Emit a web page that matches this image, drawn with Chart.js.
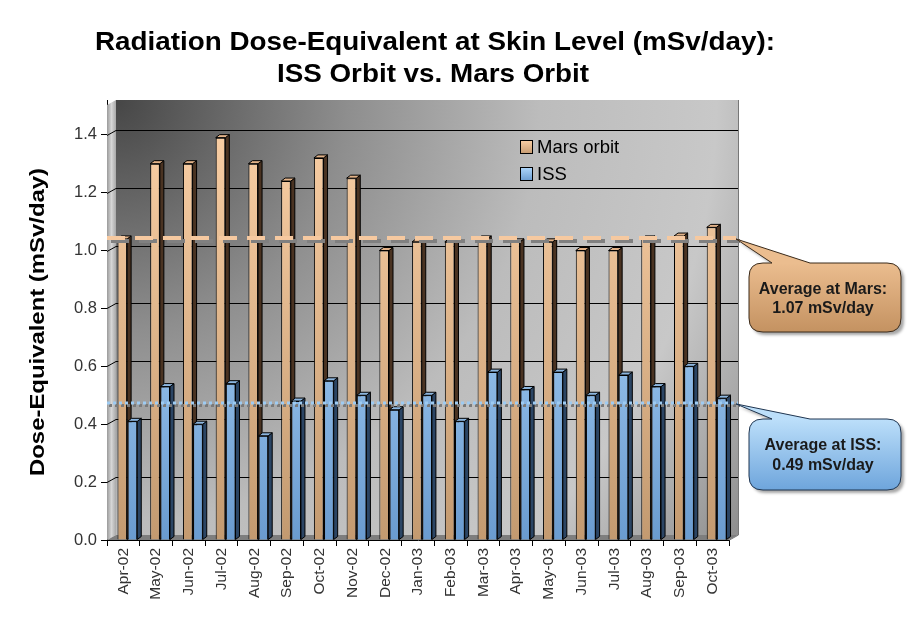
<!DOCTYPE html>
<html><head><meta charset="utf-8">
<script src="https://cdn.jsdelivr.net/npm/chart.js@4.4.0/dist/chart.umd.min.js"></script>
<style>html,body{margin:0;padding:0;background:#fff;}</style>
</head><body>
<canvas id="c" width="907" height="621"></canvas>
<script>
const months = ['Apr-02','May-02','Jun-02','Jul-02','Aug-02','Sep-02','Oct-02','Nov-02','Dec-02','Jan-03','Feb-03','Mar-03','Apr-03','May-03','Jun-03','Jul-03','Aug-03','Sep-03','Oct-03'];
const marsOrbit = [1.04,1.30,1.30,1.39,1.30,1.24,1.32,1.25,1.00,1.03,1.03,1.04,1.03,1.03,1.00,1.00,1.04,1.05,1.08];
const issOrbit  = [0.41,0.53,0.40,0.54,0.36,0.48,0.55,0.50,0.45,0.50,0.41,0.58,0.52,0.58,0.50,0.57,0.53,0.60,0.49];
const seriesNames = ['Mars orbit','ISS'];
const averageLevels = [1.04, 0.47];
const averageTexts = [['Average at Mars:','1.07 mSv/day'],['Average at ISS:','0.49 mSv/day']];
const yTicks = [0,0.2,0.4,0.6,0.8,1.0,1.2,1.4];
const titleLines = ['Radiation Dose-Equivalent at Skin Level (mSv/day):','ISS Orbit vs. Mars Orbit'];
const yTitle = 'Dose-Equivalent (mSv/day)';

const DX = 9, DY = 5;      // 3D wall depth
const BD = 4, BR = 3;      // bar depth

function vgrad(ctx, y0, y1, c0, c1){ const g = ctx.createLinearGradient(0,y0,0,y1); g.addColorStop(0,c0); g.addColorStop(1,c1); return g; }

const marsFill = (c) => { const a = c.chart.chartArea; if(!a) return '#e8b888'; return vgrad(c.chart.ctx, a.top, a.bottom, '#fdd2a8', '#c39a70'); };
const issFill = (c) => { const a = c.chart.chartArea; if(!a) return '#9cc8f0'; return vgrad(c.chart.ctx, a.top+100, a.bottom, '#b0d8fc', '#6a9bcf'); };

const wallPlugin = {
  id:'walls',
  beforeDatasetsDraw(chart){
    const ctx = chart.ctx, a = chart.chartArea, ys = chart.scales.y;
    const L=a.left, R=a.right, T=a.top, B=a.bottom;
    ctx.save();
    // back wall
    let g = ctx.createRadialGradient(L+DX, T, 0, L+DX, T, 770);
    g.addColorStop(0,'#464646'); g.addColorStop(0.3,'#8e8e8e'); g.addColorStop(0.55,'#bcbcbc');
    g.addColorStop(0.78,'#c8c8c8'); g.addColorStop(1,'#8a8a8a');
    ctx.fillStyle = g; ctx.fillRect(L+DX, T, R-L, B-DY-T);
    // left wall
    g = ctx.createLinearGradient(L, 0, L+DX, 0);
    g.addColorStop(0,'#9a9a9a'); g.addColorStop(0.5,'#d6d6d6'); g.addColorStop(1,'#a8a8a8');
    ctx.fillStyle = g;
    ctx.beginPath(); ctx.moveTo(L,T+DY); ctx.lineTo(L+DX,T); ctx.lineTo(L+DX,B-DY); ctx.lineTo(L,B); ctx.closePath(); ctx.fill();
    // floor
    ctx.fillStyle = '#7e7e7e';
    ctx.beginPath(); ctx.moveTo(L,B); ctx.lineTo(L+DX,B-DY); ctx.lineTo(R+DX,B-DY); ctx.lineTo(R,B); ctx.closePath(); ctx.fill();
    // right edge
    ctx.strokeStyle='#777'; ctx.lineWidth=1;
    ctx.beginPath(); ctx.moveTo(R+DX+0.5,T); ctx.lineTo(R+DX+0.5,B-DY); ctx.lineTo(R+0.5,B); ctx.stroke();
    // gridlines
    ctx.strokeStyle='#000'; ctx.lineWidth=1;
    yTicks.forEach(v => {
      if (v === 0) return;
      const py = Math.round(ys.getPixelForValue(v)) + 0.5;
      ctx.beginPath(); ctx.moveTo(L,py); ctx.lineTo(L+DX,py-DY); ctx.lineTo(R+DX,py-DY); ctx.stroke();
    });
    ctx.restore();
  }
};

function barFaces(ctx, el, side, top){
  const p = el.getProps(['x','y','base','width'], true);
  const xr = p.x + p.width/2, xl = p.x - p.width/2;
  ctx.save(); ctx.lineWidth = 1; ctx.strokeStyle = '#000';
  ctx.fillStyle = side;
  ctx.beginPath(); ctx.moveTo(xr,p.y); ctx.lineTo(xr+BD,p.y-BR); ctx.lineTo(xr+BD,p.base-BR); ctx.lineTo(xr,p.base); ctx.closePath(); ctx.fill(); ctx.stroke();
  ctx.fillStyle = top;
  ctx.beginPath(); ctx.moveTo(xl,p.y); ctx.lineTo(xl+BD,p.y-BR); ctx.lineTo(xr+BD,p.y-BR); ctx.lineTo(xr,p.y); ctx.closePath(); ctx.fill(); ctx.stroke();
  ctx.restore();
}

const bars3D = {
  id:'bars3d',
  afterDatasetsUpdate(chart){
    chart.data.datasets.forEach((d,i) => chart.getDatasetMeta(i).data.forEach(el => { el.x += 4; }));
  },
  afterDatasetsDraw(chart){
    const ctx = chart.ctx;
    const m0 = chart.getDatasetMeta(0).data, m1 = chart.getDatasetMeta(1).data;
    m0.forEach((el,i) => {
      barFaces(ctx, el, '#4a3322', '#e2b288');
      m1[i].draw(ctx);
      barFaces(ctx, m1[i], '#2b4564', '#8cb6df');
    });
  }
};

function calloutPath(ctx, x, y, w, h, r, tip, b0, b1){
  ctx.beginPath();
  ctx.moveTo(x+r, y);
  ctx.lineTo(b0, y); ctx.lineTo(tip[0], tip[1]); ctx.lineTo(b1, y);
  ctx.lineTo(x+w-r, y); ctx.quadraticCurveTo(x+w, y, x+w, y+r);
  ctx.lineTo(x+w, y+h-r); ctx.quadraticCurveTo(x+w, y+h, x+w-r, y+h);
  ctx.lineTo(x+r, y+h); ctx.quadraticCurveTo(x, y+h, x, y+h-r);
  ctx.lineTo(x, y+r); ctx.quadraticCurveTo(x, y, x+r, y);
  ctx.closePath();
}

const overlay = {
  id:'overlay',
  afterDatasetsDraw(chart){
    const ctx = chart.ctx, a = chart.chartArea, ys = chart.scales.y;
    const x0 = a.left, x1 = a.right + 11;
    ctx.save();
    // Mars average (dashed)
    let py = ys.getPixelForValue(averageLevels[0]);
    ctx.lineWidth = 4; ctx.setLineDash([18,10]);
    ctx.strokeStyle = '#808080'; ctx.beginPath(); ctx.moveTo(x0+4,py+2); ctx.lineTo(x1,py+2); ctx.stroke();
    ctx.strokeStyle = '#f6c9a0'; ctx.beginPath(); ctx.moveTo(x0,py-1); ctx.lineTo(x1-4,py-1); ctx.stroke();
    // ISS average (dotted)
    py = ys.getPixelForValue(averageLevels[1]);
    ctx.lineWidth = 3; ctx.setLineDash([3,3]);
    ctx.strokeStyle = '#7a7a7a'; ctx.beginPath(); ctx.moveTo(x0+2,py+1.5); ctx.lineTo(x1,py+1.5); ctx.stroke();
    ctx.strokeStyle = '#9ecbf2'; ctx.beginPath(); ctx.moveTo(x0,py-1); ctx.lineTo(x1-2,py-1); ctx.stroke();
    ctx.setLineDash([]);

    // callouts
    const specs = [
      {y:263, h:69, tipY: ys.getPixelForValue(averageLevels[0]), c0:'#ebbd8f', c1:'#c49261', st:'#3a2a1a', tx: averageTexts[0]},
      {y:419, h:71, tipY: ys.getPixelForValue(averageLevels[1]), c0:'#bcdffa', c1:'#6ea5dc', st:'#1f3550', tx: averageTexts[1]}
    ];
    specs.forEach(s => {
      const bx = 749, bw = 152;
      ctx.save();
      ctx.shadowColor = 'rgba(0,0,0,0.35)'; ctx.shadowOffsetX = 3; ctx.shadowOffsetY = 3; ctx.shadowBlur = 3;
      calloutPath(ctx, bx, s.y, bw, s.h, 14, [x1-4, s.tipY], 772, 810);
      ctx.fillStyle = vgrad(ctx, s.y, s.y+s.h, s.c0, s.c1); ctx.fill();
      ctx.restore();
      calloutPath(ctx, bx, s.y, bw, s.h, 14, [x1-4, s.tipY], 772, 810);
      ctx.lineWidth = 1; ctx.strokeStyle = s.st; ctx.stroke();
      ctx.fillStyle = '#1a1a1a'; ctx.font = 'bold 16px "Liberation Sans", Arial, sans-serif';
      ctx.textAlign = 'center'; ctx.textBaseline = 'middle';
      ctx.fillText(s.tx[0], bx+bw/2-2, s.y+s.h*0.38);
      ctx.fillText(s.tx[1], bx+bw/2-2, s.y+s.h*0.66);
    });

    // legend
    const leg = [{y:147, c0:'#fbd0a6', c1:'#c59a70'}, {y:174, c0:'#b0d8fc', c1:'#6a9bcf'}];
    leg.forEach((l,i) => {
      ctx.fillStyle = vgrad(ctx, l.y-7, l.y+7, l.c0, l.c1);
      ctx.fillRect(520, l.y-7, 12, 13);
      ctx.lineWidth = 1; ctx.strokeStyle = '#000'; ctx.strokeRect(520.5, l.y-6.5, 12, 13);
      ctx.fillStyle = '#000'; ctx.font = '18.5px "Liberation Sans", Arial, sans-serif';
      ctx.textAlign = 'left'; ctx.textBaseline = 'middle';
      ctx.fillText(seriesNames[i], 537, l.y+1);
    });
    ctx.restore();
  },
  afterDraw(chart){
    const ctx = chart.ctx;
    ctx.save();
    ctx.fillStyle = '#000'; ctx.textAlign = 'center'; ctx.textBaseline = 'middle';
    ctx.font = 'bold 25px "Liberation Sans", Arial, sans-serif';
    const s = 680 / ctx.measureText(titleLines[0]).width;
    [[435,43],[433,75]].forEach((p,i) => {
      ctx.save(); ctx.translate(p[0], p[1]); ctx.scale(s,1); ctx.fillText(titleLines[i],0,0); ctx.restore();
    });
    ctx.font = 'bold 20px "Liberation Sans", Arial, sans-serif';
    const s2 = 308 / ctx.measureText(yTitle).width;
    ctx.translate(38, 322); ctx.rotate(-Math.PI/2); ctx.scale(s2,1);
    ctx.fillText(yTitle, 0, 0);
    ctx.restore();
  }
};

new Chart(document.getElementById('c'), {
  type:'bar',
  data:{
    labels: months,
    datasets:[
      {label: seriesNames[0], data: marsOrbit, backgroundColor: marsFill, borderColor:'#000', borderWidth:1},
      {label: seriesNames[1], data: issOrbit, backgroundColor: issFill, borderColor:'#000', borderWidth:1}
    ]
  },
  options:{
    responsive:false, animation:false, devicePixelRatio:1,
    layout:{padding:{top:100, left:20, right:178, bottom:0}},
    datasets:{bar:{categoryPercentage:0.62, barPercentage:0.95}},
    plugins:{legend:{display:false}, title:{display:false}, tooltip:{enabled:false}},
    scales:{
      x:{
        offset:true,
        grid:{display:true, drawOnChartArea:false, drawTicks:true, tickLength:6, color:'#000', offset:true},
        border:{display:true, color:'#000'},
        ticks:{minRotation:90, maxRotation:90, autoSkip:false, padding:2, color:'#333', font:{family:'"Liberation Sans", Arial, sans-serif', size:15.5}},
        afterFit(s){ s.height = 81; }
      },
      y:{
        min:0, max:1.52,
        afterBuildTicks(s){ s.ticks = yTicks.map(v => ({value:v})); },
        grid:{display:true, drawOnChartArea:false, drawTicks:true, tickLength:6, color:'#000'},
        border:{display:true, color:'#000'},
        ticks:{callback:(v)=>Number(v).toFixed(1), padding:4, color:'#333', font:{family:'"Liberation Sans", Arial, sans-serif', size:16.5}},
        afterFit(s){ s.width = 87; }
      }
    }
  },
  plugins:[wallPlugin, bars3D, overlay]
});
</script>
</body></html>
